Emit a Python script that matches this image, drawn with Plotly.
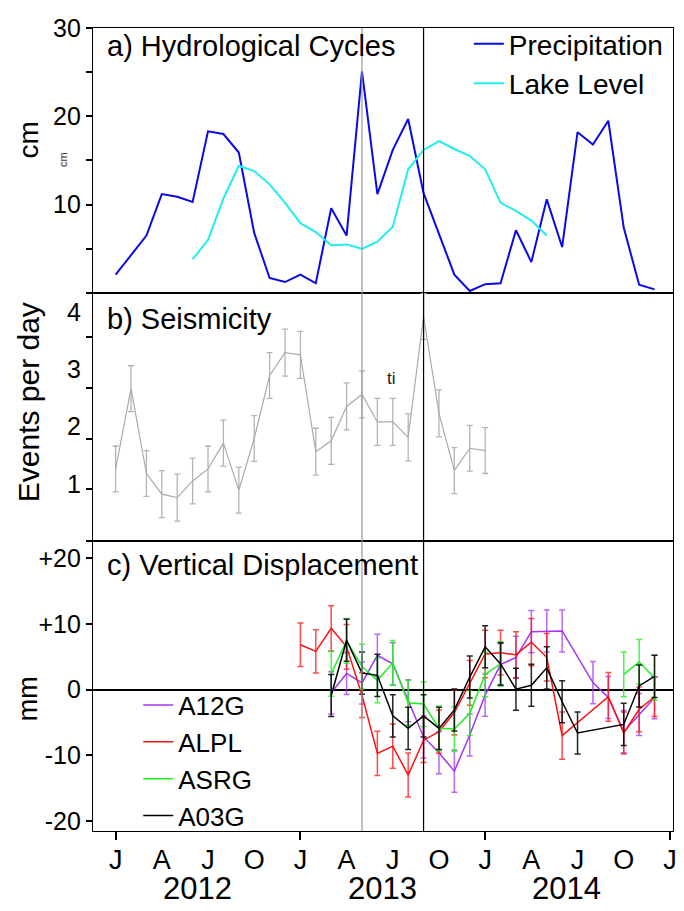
import plotly.graph_objects as go
from plotly.subplots import make_subplots

# ---------------- data (month index: 0 = Jan 2012) ----------------
precip_months = list(range(0, 36))
precipitation = [2.07, 4.25, 6.5, 11.2, 10.9, 10.3, 18.3, 18.0, 15.9, 6.8, 1.7, 1.24,
                 2.07, 1.1, 9.6, 6.5, 25.1, 11.2, 16.2, 19.7, 11.3, 6.7, 2.07, 0.23,
                 1.0, 1.1, 7.1, 3.5, 10.6, 5.2, 18.2, 16.8, 19.5, 7.4, 0.94, 0.41]

lake_months = list(range(5, 29))
lake_level = [3.8, 6.0, 10.7, 14.4, 13.8, 12.3, 10.2, 7.9, 6.9, 5.4, 5.5, 5.0,
              5.8, 7.5, 14.0, 16.2, 17.2, 16.3, 15.5, 14.0, 10.2, 9.3, 8.2, 6.5]

seis_months = list(range(0, 25))
seismicity = [1.26, 2.66, 1.18, 0.82, 0.76, 1.05, 1.26, 1.71, 0.89, 1.79, 2.89, 3.29, 3.25,
              1.56, 1.75, 2.35, 2.56, 2.08, 2.08, 1.81, 3.92, 2.23, 1.23, 1.62, 1.58]
seis_err = [0.40, 0.40, 0.40, 0.41, 0.41, 0.40, 0.40, 0.40, 0.40, 0.40, 0.40, 0.41, 0.41,
            0.41, 0.41, 0.41, 0.41, 0.41, 0.41, 0.41, 0.40, 0.41, 0.40, 0.40, 0.40]

gps_months = list(range(12, 36))
N = None
A12G = [N, N, -0.5, 2.45, 1.0, 5.2, 3.9, -1.7, -7.2, -9.6, -12.4, -6.9,
        -0.85, 3.8, 4.9, 8.8, 8.9, 8.9, N, 1.05, -1.2, -6.4, -3.8, -1.25]
ALPL = [6.8, 5.8, 9.3, 6.5, -0.85, -9.7, -8.6, -13.0, -7.7, -6.4, -3.5, 1.0,
        5.4, 5.6, 5.3, 7.2, 4.9, -7.0, N, N, -1.1, -6.6, -3.0, -1.1]
ASRG = [N, N, 2.4, 7.4, 3.5, 1.4, 4.06, -2.0, -2.2, -5.9, -6.0, -3.6,
        2.3, 3.9, N, N, N, N, N, N, N, 2.3, 4.2, 1.8]
A03G = [N, N, -0.9, 7.5, 2.5, 2.16, -4.0, -5.9, -4.0, -5.9, -3.1, 1.9,
        6.5, 3.9, 0.05, 0.65, 3.3, -1.85, -6.6, N, N, -5.3, 0.55, 2.0]
A12G_err = [3.2] * 24
ALPL_err = [3.3, 3.3, 3.45, 3.4, 3.4, 3.35, 3.35, 3.35, 3.4, 3.3, 3.4, 3.4,
            3.6, 3.4, 3.5, 3.6, 3.6, 3.6, 3.4, 3.4, 3.7, 3.2, 3.4, 3.0]
ASRG_err = [3.4] * 24
A03G_err = [3.2] * 24

event_months = [16, 20]          # grey and black reference lines (May 2013, Sep 2013)
tick_months = list(range(0, 37, 3))
tick_text = ["J", "A", "J", "O"] * 3 + ["J"]
year_labels = ["2012", "2013", "2014"]
year_pos = [5.3, 17.3, 29.3]

FONT = "Liberation Sans, Arial, sans-serif"

fig = make_subplots(rows=3, cols=1, shared_xaxes=True, vertical_spacing=0)

# panel a
fig.add_trace(go.Scatter(x=precip_months, y=precipitation, mode="lines", name="Precipitation",
                         line=dict(color="#0a0ae6", width=2), legend="legend"), row=1, col=1)
fig.add_trace(go.Scatter(x=lake_months, y=lake_level, mode="lines", name="Lake Level",
                         line=dict(color="#22eef0", width=2), legend="legend"), row=1, col=1)

# panel b
fig.add_trace(go.Scatter(x=seis_months, y=seismicity, mode="lines", showlegend=False,
                         line=dict(color="#ababab", width=1.2),
                         error_y=dict(type="data", array=seis_err, color="#b4b4b4",
                                      thickness=1.3, width=3)), row=2, col=1)

# panel c
series = [("A12G", A12G, A12G_err, "#a335f5", "rgba(163,53,245,0.75)", True),
          ("ALPL", ALPL, ALPL_err, "#ff1010", "rgba(255,16,16,0.75)", True),
          ("ASRG", ASRG, ASRG_err, "#22ee22", "rgba(34,238,34,0.8)", False),
          ("A03G", A03G, A03G_err, "#000000", "rgba(0,0,0,0.85)", True)]
for name, vals, err, col, ecol, cg in series:
    fig.add_trace(go.Scatter(x=gps_months, y=vals, mode="lines", name=name, connectgaps=cg,
                             line=dict(color=col, width=1.5), legend="legend2",
                             error_y=dict(type="data", array=err, color=ecol,
                                          thickness=1.5, width=3)), row=3, col=1)

xr = [-1.47, 36.2]
axis_common = dict(showline=True, linecolor="black", linewidth=1.2, mirror=True,
                   showgrid=False, zeroline=False, automargin=False)
for i, dom in zip([1, 2, 3], [[0.670, 1.0], [0.361, 0.670], [0.0, 0.361]]):
    fig.update_layout(**{f"yaxis{i if i > 1 else ''}": dict(domain=dom, **axis_common)})
    fig.update_layout(**{f"xaxis{i if i > 1 else ''}": dict(range=xr, **axis_common)})

tickfont = dict(family=FONT, size=25, color="black")
fig.update_xaxes(showticklabels=False, ticks="", row=1, col=1)
fig.update_xaxes(showticklabels=False, ticks="", row=2, col=1)
fig.update_xaxes(tickvals=tick_months, ticktext=tick_text, ticks="outside", ticklen=0,
                 tickfont=dict(family=FONT, size=27, color="black"), ticklabelstandoff=4,
                 minor=dict(tickvals=[0, 12, 24, 36], ticks="outside", ticklen=8,
                            tickcolor="black", tickwidth=1.5),
                 row=3, col=1)

fig.update_yaxes(range=[0, 30], tickvals=[10, 20, 30], ticks="outside", ticklen=6,
                 tickwidth=1.5, tickcolor="black", tickfont=tickfont,
                 minor=dict(tickvals=[0, 5, 15, 25], ticks="outside", ticklen=6,
                            tickcolor="black", tickwidth=1.5), row=1, col=1)
fig.update_yaxes(range=[0, 4.33], tickvals=[1, 2, 3, 4], ticks="outside", ticklen=6,
                 tickcolor="rgba(0,0,0,0)", tickfont=tickfont,
                 minor=dict(tickvals=[0.005, 0.91, 1.79, 2.68, 3.56], ticks="outside",
                            ticklen=6, tickcolor="black", tickwidth=1.5), row=2, col=1)
fig.update_yaxes(range=[-21.5, 22.56], tickvals=[-20, -10, 0, 10, 20],
                 ticktext=["-20", "-10", "0", "+10", "+20"], ticks="outside", ticklen=6,
                 tickwidth=1.5, tickcolor="black", tickfont=tickfont,
                 zeroline=True, zerolinecolor="black", zerolinewidth=1.5, row=3, col=1)

for m, c in zip(event_months, ["#999999", "#000000"]):
    fig.add_shape(type="line", xref="x", yref="paper", x0=m, x1=m, y0=0, y1=1,
                  line=dict(color=c, width=1.2), layer="above")

ann = []
for txt, y in [("a) Hydrological Cycles", 0.978), ("b) Seismicity", 0.638),
               ("c) Vertical Displacement", 0.331)]:
    ann.append(dict(text=txt, xref="paper", yref="paper", x=0.0207, y=y, xanchor="left",
                    yanchor="middle", showarrow=False,
                    font=dict(family=FONT, size=29, color="black")))
for txt, y, s in [("cm", 0.860, 28), ("Events per day", 0.534, 30), ("mm", 0.164, 27)]:
    ann.append(dict(text=txt, xref="paper", yref="paper", x=-0.112, y=y, textangle=-90,
                    xanchor="center", yanchor="middle", showarrow=False,
                    font=dict(family=FONT, size=s, color="black")))
ann.append(dict(text="cm", xref="paper", yref="paper", x=-0.0517, y=0.8356, textangle=-90,
                xanchor="center", yanchor="middle",
                showarrow=False, font=dict(family=FONT, size=11, color="#333333")))
ann.append(dict(text="ti", xref="paper", yref="paper", x=0.5155, y=0.5637, showarrow=False,
                xanchor="center", yanchor="middle",
                font=dict(family="Liberation Sans Narrow, " + FONT, size=17, color="#222222")))
for t, xp in zip(year_labels, year_pos):
    ann.append(dict(text=t, xref="x3", yref="paper", x=xp, y=-0.0717, showarrow=False,
                    xanchor="center", yanchor="middle",
                    font=dict(family=FONT, size=31, color="black")))

# page body has an 8px default margin: size the figure so the plot lands where the reference has it
fig.update_layout(
    width=676, height=903, margin=dict(l=85, r=11, t=14, b=80),
    paper_bgcolor="white", plot_bgcolor="white",
    annotations=ann,
    legend=dict(x=0.648, y=1.011, xanchor="left", yanchor="top", bgcolor="rgba(0,0,0,0)",
                font=dict(family=FONT, size=28, color="black"), tracegroupgap=0,
                itemwidth=30),
    legend2=dict(x=0.078, y=0.186, xanchor="left", yanchor="top", bgcolor="rgba(0,0,0,0)",
                 font=dict(family=FONT, size=26, color="black"), tracegroupgap=0,
                 itemwidth=30),
)

fig.write_html("out.html")
